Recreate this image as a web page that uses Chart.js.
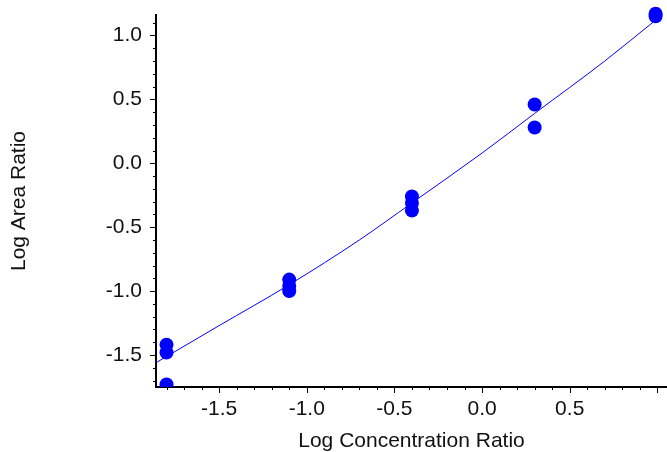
<!DOCTYPE html>
<html>
<head>
<meta charset="utf-8">
<script src="https://cdn.jsdelivr.net/npm/chart.js@4"></script>
<style>
  html, body { margin: 0; padding: 0; background: #fff; }
  #wrap { width: 667px; height: 452px; }
</style>
</head>
<body>
<div id="wrap"><canvas id="chart" width="667" height="452"></canvas></div>
<script>
const concX = [-1.8, -1.8, -1.8, -1.1, -1.1, -1.1, -0.4, -0.4, -0.4, 0.3, 0.3, 0.99, 0.99];
const areaY = [-1.42, -1.48, -1.73, -0.91, -0.96, -1.0, -0.26, -0.31, -0.37, 0.46, 0.28, 1.15, 1.17];

// Courbe d'étalonnage, points
const curveX = [-1.86, -1.5, -1.1, -0.7, -0.4, 0.0, 0.3, 0.7, 0.99];
const curveY = [-1.56, -1.27, -0.95, -0.60, -0.31, 0.08, 0.39, 0.80, 1.12];

// Bornes des axes et libellés affichés
const xRange = [-1.86, 1.055];
const yRange = [-1.75, 1.16];
const xLabels = ['-1.5', '-1.0', '-0.5', '0.0', '0.5'];
const yLabels = ['-1.5', '-1.0', '-0.5', '0.0', '0.5', '1.0'];

const BLUE = '#0000ff';
const FONT = { family: '"Liberation Sans", Arial, sans-serif', size: 21 };

// graduation majeure tous les 0.5, mineure tous les 0.1
function isMajor(v) {
    return Math.round(v * 10) % 5 === 0;
}
function labelFrom(list) {
    return function (v) {
        const s = (Math.round(v * 10) / 10).toFixed(1);
        return list.includes(s) ? s : '';
    };
}

// petits traits de graduation dessinés à la main (longueur différente majeure/mineure)
const tickMarks = {
    id: 'tickMarks',
    afterDraw(chart) {
        const ctx = chart.ctx;
        const xs = chart.scales.x, ys = chart.scales.y;
        ctx.save();
        ctx.strokeStyle = '#000';
        ctx.lineWidth = 1;
        ctx.beginPath();
        xs.ticks.forEach(t => {
            const px = Math.round(xs.getPixelForValue(t.value)) + 0.5;
            const len = isMajor(t.value) ? 6 : 3;
            ctx.moveTo(px, xs.top);
            ctx.lineTo(px, xs.top + len);
        });
        ys.ticks.forEach(t => {
            const py = Math.round(ys.getPixelForValue(t.value)) + 0.5;
            const len = isMajor(t.value) ? 6 : 3;
            ctx.moveTo(ys.right, py);
            ctx.lineTo(ys.right - len, py);
        });
        ctx.stroke();
        ctx.restore();
    }
};

new Chart(document.getElementById('chart'), {
    type: 'scatter',
    data: {
        datasets: [
            {
                // les points de mesure
                data: concX.map((x, i) => ({ x: x, y: areaY[i] })),
                backgroundColor: BLUE,
                borderColor: BLUE,
                borderWidth: 0,
                pointRadius: 7,
                pointHoverRadius: 7,
                clip: { left: false, top: false, right: false, bottom: 0 },
                order: 2
            },
            {
                // la courbe ajustée
                type: 'line',
                data: curveX.map((x, i) => ({ x: x, y: curveY[i] })),
                borderColor: BLUE,
                borderWidth: 1,
                pointRadius: 0,
                fill: false,
                tension: 0.4,
                cubicInterpolationMode: 'monotone',
                order: 1
            }
        ]
    },
    options: {
        responsive: false,
        animation: false,
        events: [],
        layout: {
            autoPadding: false, // sinon Chart.js réserve la place du rayon des points
            padding: { top: 15, right: 0, left: 0, bottom: 0 }
        },
        plugins: {
            legend: { display: false },
            tooltip: { enabled: false }
        },
        scales: {
            x: {
                type: 'linear',
                min: xRange[0],
                max: xRange[1],
                afterFit(scale) {
                    scale.height = 65;
                    scale.paddingLeft = 0;
                    scale.paddingRight = 0;
                },
                grid: { drawOnChartArea: false, drawTicks: true, tickLength: 6, tickColor: 'rgba(0,0,0,0)' },
                border: { display: true, color: '#000', width: 2 },
                ticks: {
                    stepSize: 0.1,
                    includeBounds: false,
                    autoSkip: false,
                    maxRotation: 0,
                    padding: 4,
                    color: '#111',
                    font: FONT,
                    callback: labelFrom(xLabels)
                },
                title: {
                    display: true,
                    text: 'Log Concentration Ratio',
                    color: '#111',
                    font: Object.assign({ lineHeight: 1 }, FONT),
                    padding: { top: 0, bottom: 0 }
                }
            },
            y: {
                type: 'linear',
                min: yRange[0],
                max: yRange[1],
                afterFit(scale) {
                    scale.width = 156;
                    scale.paddingTop = 0;
                    scale.paddingBottom = 0;
                },
                grid: { drawOnChartArea: false, drawTicks: true, tickLength: 6, tickColor: 'rgba(0,0,0,0)' },
                border: { display: true, color: '#000', width: 2 },
                ticks: {
                    stepSize: 0.1,
                    includeBounds: false,
                    autoSkip: false,
                    padding: 8,
                    color: '#111',
                    font: FONT,
                    callback: labelFrom(yLabels)
                },
                title: {
                    display: true,
                    text: 'Log Area Ratio',
                    color: '#111',
                    font: Object.assign({ lineHeight: 1 }, FONT),
                    padding: { top: 9, bottom: 0 }
                }
            }
        }
    },
    plugins: [tickMarks]
});
</script>
</body>
</html>
